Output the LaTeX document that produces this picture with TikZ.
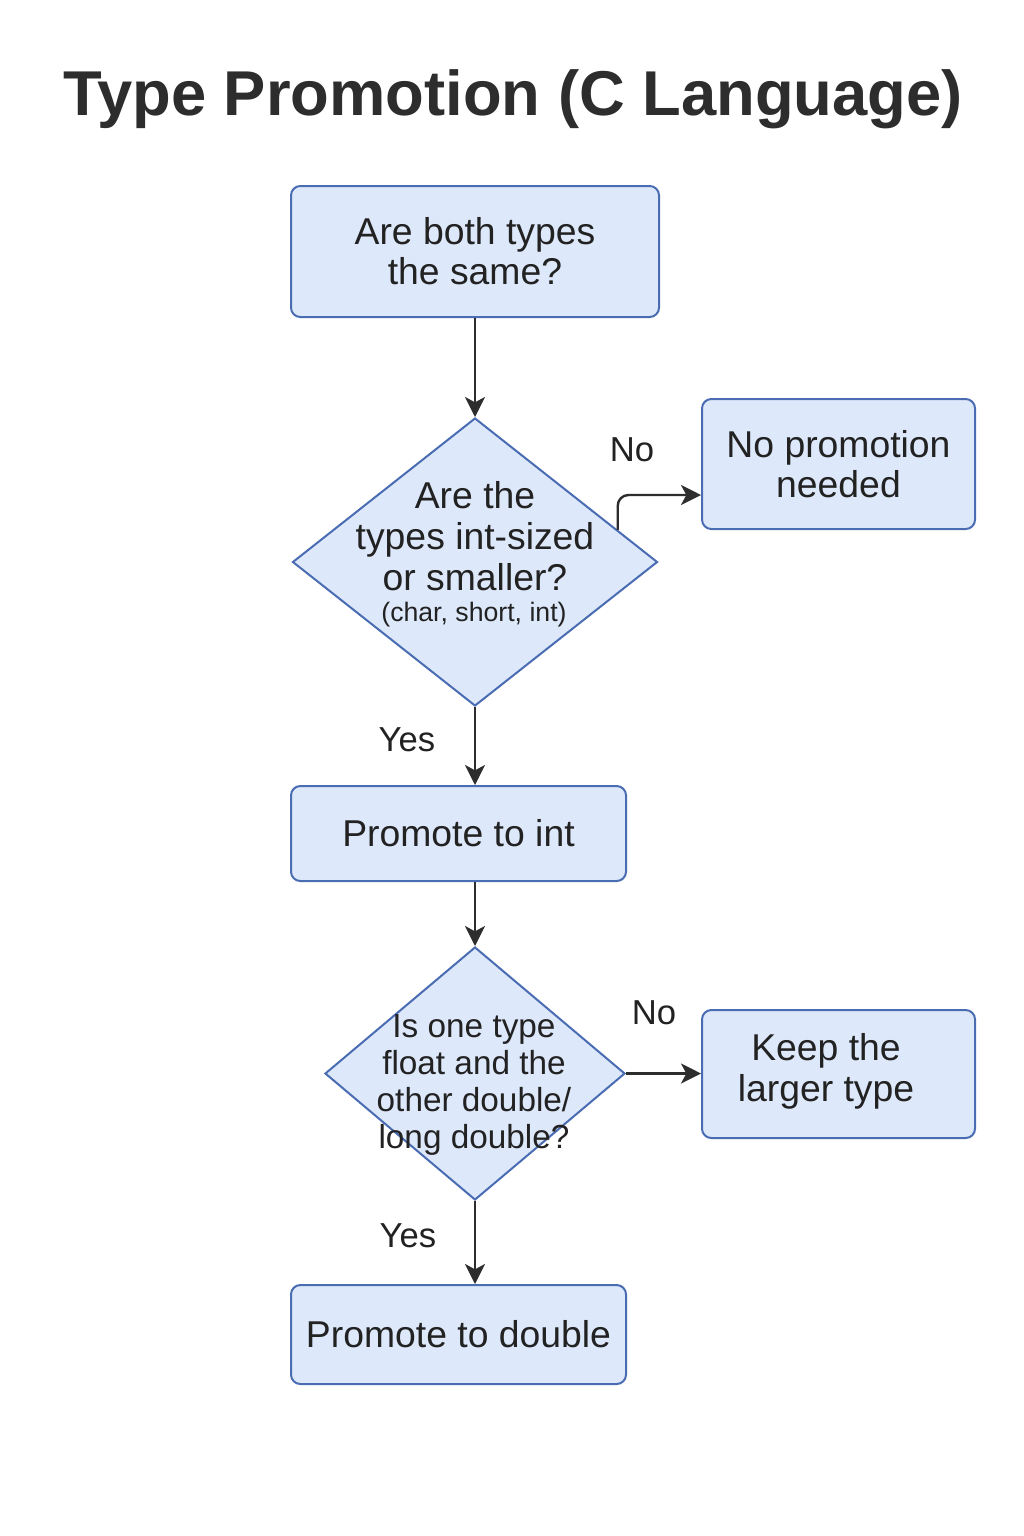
\documentclass[tikz,border=0pt]{standalone}
\usepackage{fontspec}
\setmainfont{Liberation Sans}
\usetikzlibrary{arrows.meta,shapes.geometric,calc}
\definecolor{boxfill}{RGB}{221,232,250}
\definecolor{boxline}{RGB}{74,108,178}
\definecolor{ink}{RGB}{34,34,34}
\definecolor{arrowc}{RGB}{45,45,45}
\begin{document}
\begin{tikzpicture}[x=0.75pt,y=-0.75pt,
  boxst/.style={draw=boxline,fill=boxfill,line width=1.5pt,rounded corners=7pt,inner sep=0pt,text=ink,align=center,font=\fontsize{28}{30}\selectfont},
  diast/.style={diamond,draw=boxline,fill=boxfill,line width=1.5pt,inner sep=0pt,aspect=1},
  txt/.style={text=ink,align=center,inner sep=0pt},
  lbl/.style={text=ink,inner sep=0pt,font=\fontsize{26}{28}\selectfont},
  conn/.style={draw=arrowc,line width=1.8pt,-{Stealth[length=15pt,width=15pt,inset=4pt]}}]
\useasboundingbox (0,0) rectangle (1024,1536);
\fill[white] (0,0) rectangle (1024,1536);

\node[txt,anchor=base,font=\fontsize{47.5}{50}\bfseries\selectfont,text=ink!95] (title) at (513,115) {Type Promotion (C Language)};

\node[boxst,minimum width=276pt,minimum height=98.25pt] (b1) at (475,251.5) {Are both types\\the same?};

\node[diast,minimum width=273.75pt,minimum height=216pt] (d1) at (475,562) {};
\node[txt,font=\fontsize{28}{31}\selectfont] (d1t) at (475,536) {Are the\\types int-sized\\or smaller?};
\node[txt,font=\fontsize{20}{22}\selectfont] (d1s) at (474,615) {(char, short, int)};

\node[boxst,minimum width=204.75pt,minimum height=97.5pt] (b2) at (838.5,464) {No promotion\\needed};

\node[boxst,minimum width=251.25pt,minimum height=71.25pt] (b3) at (458.5,833.5) {Promote to int};

\node[diast,minimum width=225pt,minimum height=189.75pt] (d2) at (475,1073.5) {};
\node[txt,font=\fontsize{25}{27.6}\selectfont] (d2t) at (474,1085) {Is one type\\float and the\\other double/\\long double?};

\node[boxst,minimum width=204.75pt,minimum height=96pt] (b4) at (838.5,1074) {};
\node[txt,font=\fontsize{28}{31}\selectfont] (b4t) at (826,1071) {Keep the\\larger type};

\node[boxst,minimum width=251.25pt,minimum height=74.25pt] (b5) at (458.5,1334.5) {Promote to double};

\node[lbl] (no1) at (632,450) {No};
\node[lbl] (yes1) at (407,740) {Yes};
\node[lbl] (no2) at (654,1013) {No};
\node[lbl] (yes2) at (408,1236) {Yes};

\coordinate (c1) at ($(d1.north)!0.778!(d1.east)$);
\coordinate (t1) at ([yshift=-23.25pt]b2.west);

\draw[conn] (b1.south) -- (d1.north);
\draw[conn,rounded corners=8pt] (c1) |- (t1);
\draw[conn] (d1.south) -- (d1.south |- b3.north);
\draw[conn] (d1.south |- b3.south) -- (d2.north);
\draw[conn] (d2.east) -- (d2.east -| b4.west);
\draw[conn] (d2.south) -- (d2.south |- b5.north);
\end{tikzpicture}
\end{document}
